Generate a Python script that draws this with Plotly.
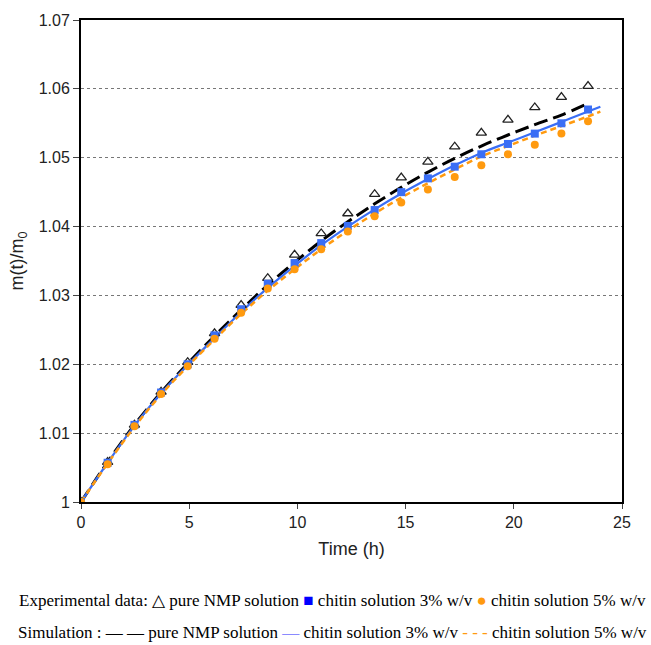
import plotly.graph_objects as go

# ---------------- data ----------------
t_exp = [0.0, 1.23, 2.47, 3.70, 4.93, 6.17, 7.40, 8.63, 9.87, 11.10,
         12.33, 13.57, 14.80, 16.03, 17.27, 18.50, 19.73, 20.97, 22.20, 23.43]
exp_nmp = [1.0, 1.0058, 1.0112, 1.0160, 1.0203, 1.0245, 1.0286, 1.0325, 1.0359, 1.0390,
           1.0419, 1.0447, 1.0471, 1.0494, 1.0516, 1.0536, 1.0555, 1.0573, 1.0588, 1.0604]
exp_3 = [1.0, 1.0057, 1.0112, 1.0159, 1.0200, 1.0242, 1.0280, 1.0317, 1.0347, 1.0376,
         1.0401, 1.0424, 1.0450, 1.0470, 1.0487, 1.0505, 1.0520, 1.0535, 1.0550, 1.0570]
exp_5 = [1.0, 1.0055, 1.0110, 1.0157, 1.0197, 1.0237, 1.0275, 1.0310, 1.0338, 1.0367,
         1.0393, 1.0415, 1.0435, 1.0454, 1.0472, 1.0489, 1.0505, 1.0519, 1.0535, 1.0553]

t_sim_nmp = [0.0, 1.23, 2.47, 3.70, 4.93, 6.17, 7.40, 8.63, 9.87, 11.10,
             12.33, 13.57, 14.80, 16.03, 17.27, 18.50, 19.73, 20.97, 22.20, 23.30]
sim_nmp = [1.0, 1.0058, 1.0112, 1.0159, 1.0201, 1.0241, 1.0279, 1.0315, 1.0348, 1.0379,
           1.0407, 1.0433, 1.0457, 1.0479, 1.0499, 1.0517, 1.0533, 1.0548, 1.0562, 1.0577]
t_sim = [0.0, 1.23, 2.47, 3.70, 4.93, 6.17, 7.40, 8.63, 9.87, 11.10,
         12.33, 13.57, 14.80, 16.03, 17.27, 18.50, 19.73, 20.97, 22.20, 23.43, 24.0]
sim_3 = [1.0, 1.0057, 1.0111, 1.0158, 1.0199, 1.0238, 1.0276, 1.0311, 1.0343, 1.0373,
         1.0400, 1.0425, 1.0448, 1.0469, 1.0489, 1.0507, 1.0522, 1.0537, 1.0552, 1.0567, 1.0574]
sim_5 = [1.0, 1.0056, 1.0109, 1.0156, 1.0197, 1.0236, 1.0273, 1.0307, 1.0338, 1.0367,
         1.0394, 1.0419, 1.0442, 1.0463, 1.0483, 1.0502, 1.0517, 1.0532, 1.0546, 1.0560, 1.0567]

x_ticks = [0, 5, 10, 15, 20, 25]
y_ticks = [1.0, 1.01, 1.02, 1.03, 1.04, 1.05, 1.06, 1.07]
y_tick_labels = ["1", "1.01", "1.02", "1.03", "1.04", "1.05", "1.06", "1.07"]

BLUE = "#3a6ef5"
ORANGE = "#ff9a0f"

fig = go.Figure()

# simulation curves
fig.add_trace(go.Scatter(x=t_sim_nmp, y=sim_nmp, mode="lines", line_shape="spline",
                         line=dict(color="black", width=3, dash="14px,6px"),
                         name="Simulation: pure NMP solution", showlegend=False))
fig.add_trace(go.Scatter(x=t_sim, y=sim_3, mode="lines", line_shape="spline",
                         line=dict(color=BLUE, width=2.2),
                         name="Simulation: chitin solution 3% w/v", showlegend=False))
fig.add_trace(go.Scatter(x=t_sim, y=sim_5, mode="lines", line_shape="spline",
                         line=dict(color=ORANGE, width=2.5, dash="6px,4px"),
                         name="Simulation: chitin solution 5% w/v", showlegend=False))

# experimental data
fig.add_trace(go.Scatter(x=t_exp, y=exp_nmp, mode="markers",
                         marker=dict(symbol="triangle-up-open", size=9, color="#222",
                                     line=dict(width=1.3, color="#222")),
                         name="pure NMP solution", showlegend=False))
fig.add_trace(go.Scatter(x=t_exp, y=exp_3, mode="markers",
                         marker=dict(symbol="square", size=8, color=BLUE),
                         name="chitin solution 3% w/v", showlegend=False))
fig.add_trace(go.Scatter(x=t_exp, y=exp_5, mode="markers",
                         marker=dict(symbol="circle", size=8, color=ORANGE),
                         name="chitin solution 5% w/v", showlegend=False))

fig.update_layout(
    width=651, height=645,
    margin=dict(l=81, r=29, t=16, b=143),
    plot_bgcolor="white", paper_bgcolor="white",
    font=dict(family="Liberation Sans, Arial", size=16, color="#222"),
    xaxis=dict(range=[0, 25], tickvals=x_ticks, showgrid=False, zeroline=False,
               showline=True, linecolor="black", linewidth=2, mirror=True,
               ticks="outside", ticklen=5, tickwidth=1, tickcolor="#444",
               title=dict(text="Time (h)", font=dict(size=18), standoff=12)),
    yaxis=dict(range=[1.0, 1.07], tickvals=y_ticks, ticktext=y_tick_labels,
               showgrid=True, gridcolor="#777", griddash="dot", gridwidth=1,
               zeroline=False,
               showline=True, linecolor="black", linewidth=2, mirror=True,
               ticks="outside", ticklen=6, tickwidth=1, tickcolor="#444",
               title=dict(text="m(t)/m<sub>0</sub>", font=dict(size=18), standoff=10)),
)

serif = "Liberation Serif, Times New Roman"
line1 = ("Experimental data: \u25b3 pure NMP solution "
         "<span style='color:#0000ff'>\u25a0</span> chitin solution 3% w/v "
         f"<span style='color:{ORANGE}'>\u25cf</span> chitin solution 5% w/v")
line2 = ("Simulation : \u2014 \u2014 pure NMP solution "
         "<span style='color:#8a8aff'>\u2014</span> chitin solution 3% w/v "
         f"<span style='color:{ORANGE}'>- - -</span> chitin solution 5% w/v")
fig.add_annotation(text=line1, xref="paper", yref="paper", x=0.464, y=-0.205,
                   xanchor="center", yanchor="middle", showarrow=False,
                   font=dict(family=serif, size=17, color="black"))
fig.add_annotation(text=line2, xref="paper", yref="paper", x=0.464, y=-0.27,
                   xanchor="center", yanchor="middle", showarrow=False,
                   font=dict(family=serif, size=17, color="black"))

fig.write_html("out.html")
